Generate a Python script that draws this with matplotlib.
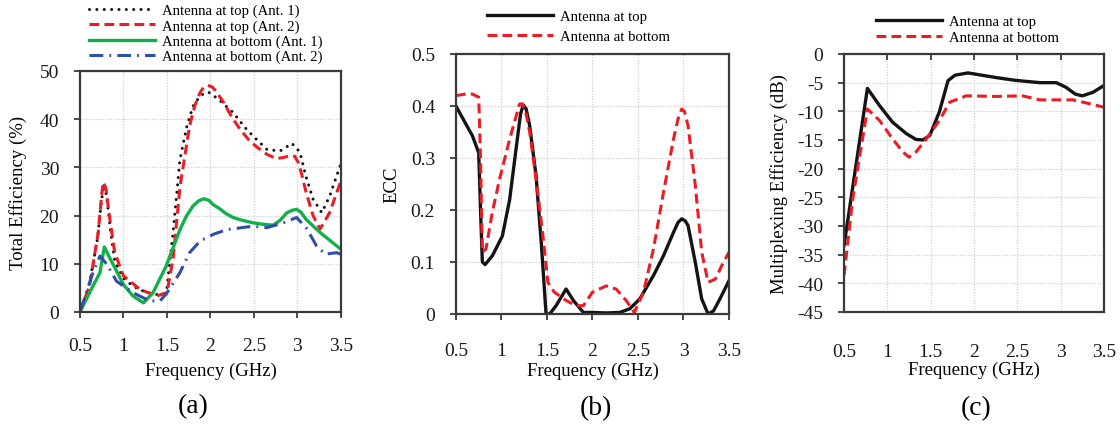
import matplotlib
matplotlib.use("Agg")
import matplotlib.pyplot as plt

plt.rcParams['font.family'] = ['Liberation Serif', 'DejaVu Serif']
plt.rcParams['axes.unicode_minus'] = False

# ---------------- data ----------------
freq_ticks = [0.5, 1, 1.5, 2, 2.5, 3, 3.5]
freq_tick_labels = ["0.5", "1", "1.5", "2", "2.5", "3", "3.5"]

# (a) Total efficiency (%)
fa_top1 = [0.5, 0.6, 0.7, 0.75, 0.78, 0.81, 0.85, 0.9, 1.0, 1.1, 1.2, 1.35, 1.45, 1.5, 1.57, 1.65,
           1.73, 1.8, 1.88, 1.95, 1.99, 2.1, 2.26, 2.4, 2.49, 2.65, 2.8, 2.88, 2.93, 2.98, 3.03, 3.1,
           3.18, 3.28, 3.37, 3.49]
ea_top1 = [0, 5, 15, 23.5, 26.5, 23.5, 17, 10.5, 7, 5.5, 4.5, 3.7, 3.5, 5, 16.5, 31.7,
           38.6, 42.7, 44.8, 45.6, 45.5, 44, 41.4, 38.2, 36.5, 33.7, 33.4, 34.3, 35, 34.3, 33, 28,
           23.4, 20.6, 24, 30.3]

fa_top2 = [0.5, 0.61, 0.71, 0.75, 0.77, 0.8, 0.83, 0.9, 1.0, 1.19, 1.38, 1.5, 1.57, 1.65, 1.76,
           1.82, 1.88, 1.92, 1.97, 2.02, 2.06, 2.15, 2.26, 2.35, 2.45, 2.55, 2.65, 2.76, 2.85, 2.91,
           2.97, 3.01, 3.05, 3.1, 3.18, 3.26, 3.37, 3.5]
ea_top2 = [0, 5.4, 16.5, 24.5, 27, 25.5, 21, 12.3, 7.5, 4.7, 3.3, 4, 11, 26, 38.6,
           42.8, 45.5, 46.6, 47, 46.7, 45.9, 43.5, 40, 37.7, 35.5, 34, 32.7, 31.8, 32.1, 32.4,
           32.3, 31, 28.5, 24.8, 20, 17.2, 20.6, 27.2]

fa_bot1 = [0.5, 0.61, 0.73, 0.78, 0.84, 1.0, 1.11, 1.23, 1.34, 1.49, 1.65, 1.72, 1.8, 1.86, 1.92,
           1.98, 2.03, 2.1, 2.18, 2.26, 2.35, 2.49, 2.6, 2.72, 2.8, 2.88, 2.94, 2.99, 3.04, 3.1,
           3.26, 3.5]
ea_bot1 = [0, 4, 8.2, 13.5, 11.3, 5.7, 3.3, 1.9, 4, 9.5, 17.1, 19.8, 22, 23.0, 23.5,
           23.2, 22.3, 21.5, 20.4, 19.6, 19.1, 18.5, 18.2, 18, 19.0, 20.6, 21.1, 21.3, 20.7, 19.2,
           16.5, 13]

fa_bot2 = [0.5, 0.65, 0.73, 0.81, 0.92, 1.11, 1.3, 1.42, 1.49, 1.65, 1.76, 1.88, 2.03, 2.19, 2.49,
           2.65, 2.84, 2.99, 3.1, 3.22, 3.32, 3.45, 3.5]
ea_bot2 = [0, 8.2, 11.6, 9.9, 6.4, 4, 2.3, 2.3, 3.7, 8.2, 12.3, 14.7, 16.1, 17.1, 17.8,
           17.5, 18.5, 19.6, 17.5, 13.7, 12, 12.3, 12]

# (b) ECC
fb_top = [0.5, 0.61, 0.68, 0.75, 0.77, 0.79, 0.82, 0.9, 1.01, 1.09, 1.16, 1.21, 1.24, 1.27, 1.31,
          1.38, 1.44, 1.49, 1.53, 1.6, 1.71, 1.79, 1.9, 2.0, 2.15, 2.3, 2.41, 2.52, 2.67, 2.78,
          2.89, 2.94, 2.98, 3.02, 3.05, 3.13, 3.2, 3.27, 3.33, 3.4, 3.5]
ecc_top = [0.4, 0.365, 0.343, 0.31, 0.2, 0.1, 0.095, 0.112, 0.15, 0.22, 0.317, 0.385, 0.402, 0.395, 0.362,
           0.266, 0.131, 0.0, 0.0, 0.016, 0.048, 0.026, 0.003, 0.003, 0.002, 0.003, 0.01, 0.029, 0.074, 0.112,
           0.157, 0.176, 0.183, 0.179, 0.17, 0.099, 0.029, 0.0, 0.006, 0.029, 0.064]

fb_bot = [0.5, 0.61, 0.68, 0.75, 0.77, 0.79, 0.83, 0.9, 0.98, 1.09, 1.16, 1.2, 1.23, 1.27, 1.31,
          1.38, 1.46, 1.51, 1.58, 1.71, 1.82, 1.9, 2.0, 2.15, 2.26, 2.37, 2.46, 2.56, 2.67, 2.78,
          2.89, 2.94, 2.98, 3.01, 3.05, 3.13, 3.2, 3.27, 3.35, 3.42, 3.5]
ecc_bot = [0.42, 0.423, 0.423, 0.417, 0.3, 0.119, 0.125, 0.196, 0.26, 0.336, 0.38, 0.404, 0.404, 0.385, 0.35,
           0.26, 0.144, 0.061, 0.042, 0.026, 0.016, 0.016, 0.042, 0.054, 0.048, 0.026, 0.003, 0.042, 0.125, 0.234,
           0.336, 0.375, 0.394, 0.39, 0.362, 0.247, 0.119, 0.061, 0.067, 0.093, 0.119]

# (c) Multiplexing efficiency (dB)
fc_top = [0.5, 0.77, 0.91, 1.06, 1.22, 1.33, 1.41, 1.49, 1.6, 1.7, 1.78, 1.93, 2.25, 2.48, 2.76,
          2.95, 3.06, 3.17, 3.25, 3.37, 3.5]
me_top = [-33.4, -6, -9, -11.9, -13.9, -14.9, -15.0, -14.2, -10.1, -4.65, -3.7, -3.3, -4.1, -4.6, -5.0,
          -5.0, -5.8, -7.0, -7.3, -6.7, -5.5]

fc_bot = [0.5, 0.6, 0.7, 0.77, 0.91, 1.06, 1.18, 1.25, 1.33, 1.45, 1.6, 1.72, 1.91, 2.25, 2.56,
          2.76, 3.14, 3.37, 3.5]
me_bot = [-38.6, -25.3, -16, -9.6, -11.6, -14.8, -17.1, -18.0, -17.1, -14.8, -11.6, -8.4, -7.3, -7.4, -7.3,
          -8.0, -8.0, -8.8, -9.3]

# ---------------- style ----------------
C_BLACK = '#141414'
C_RED = '#ec1c24'
C_GREEN = '#12b04a'
C_BLUE = '#2f4fa8'
SPINE = '#3a3a3a'
GRID = '#cfcfcf'
FS_TICK = 14
FS_LAB = 13.5
FS_LEG = 10.6

fig = plt.figure(figsize=(11.2, 4.27), dpi=100)
ax_a = fig.add_axes([0.0714, 0.2670, 0.2330, 0.5644])
ax_b = fig.add_axes([0.4071, 0.2623, 0.2438, 0.6089])
ax_c = fig.add_axes([0.7536, 0.2670, 0.2321, 0.6042])


def style_axes(ax):
    for s in ax.spines.values():
        s.set_color(SPINE)
        s.set_linewidth(1.6)
    ax.grid(True, color=GRID, linestyle=(0, (1, 1.2)), linewidth=0.9)
    ax.set_axisbelow(True)
    ax.set_xlim(0.5, 3.5)
    ax.set_xticks(freq_ticks)
    ax.set_xticklabels(freq_tick_labels)
    ax.tick_params(axis='both', labelsize=FS_TICK, colors=SPINE, labelcolor='#1a1a1a',
                   width=1.3, length=4)
    ax.tick_params(axis='y', pad=11)
    ax.set_xlabel('Frequency (GHz)', fontsize=FS_LAB)


# ---- (a)
ax = ax_a
style_axes(ax)
l1, = ax.plot(fa_top1, ea_top1, color=C_BLACK, lw=2.2, linestyle=(0, (0.01, 2.4)),
              dash_capstyle='round', solid_capstyle='round', label='Antenna at top (Ant. 1)')
l2, = ax.plot(fa_top2, ea_top2, color=C_RED, lw=2.2, linestyle=(0, (3.2, 1.7)),
              label='Antenna at top (Ant. 2)')
l3, = ax.plot(fa_bot1, ea_bot1, color=C_GREEN, lw=2.4, label='Antenna at bottom (Ant. 1)')
l4, = ax.plot(fa_bot2, ea_bot2, color=C_BLUE, lw=2.2, linestyle=(0, (4.5, 2, 0.6, 2)),
              label='Antenna at bottom (Ant. 2)')
ax.set_ylim(0, 50)
ax.set_yticks([0, 10, 20, 30, 40, 50])
ax.tick_params(axis='x', pad=14)
ax.set_ylabel('Total Efficiency (%)', fontsize=FS_LAB)
ax.xaxis.set_label_coords(0.5, -0.205)
ax.yaxis.set_label_coords(-0.203, 0.5)
fig.legend(handles=[l1, l2, l3, l4], loc='upper left', bbox_to_anchor=(89 / 1120, 1 - 5 / 427),
           frameon=False, fontsize=FS_LEG, handlelength=4.5, handletextpad=0.45,
           labelspacing=0.12, borderpad=0, borderaxespad=0)

# ---- (b)
ax = ax_b
style_axes(ax)
m1, = ax.plot(fb_top, ecc_top, color=C_BLACK, lw=2.4, label='Antenna at top')
m2, = ax.plot(fb_bot, ecc_bot, color=C_RED, lw=2.2, linestyle=(0, (3.2, 1.7)), label='Antenna at bottom')
ax.set_ylim(0, 0.5)
ax.set_yticks([0, 0.1, 0.2, 0.3, 0.4, 0.5])
ax.set_yticklabels(["0", "0.1", "0.2", "0.3", "0.4", "0.5"])
ax.tick_params(axis='x', pad=16)
ax.set_ylabel('ECC', fontsize=FS_LAB)
ax.xaxis.set_label_coords(0.5, -0.182)
ax.yaxis.set_label_coords(-0.205, 0.5)
fig.legend(handles=[m1, m2], loc='upper left', bbox_to_anchor=(487 / 1120, 1 - 11 / 427),
           frameon=False, fontsize=FS_LEG, handlelength=4.5, handletextpad=0.45,
           labelspacing=0.45, borderpad=0, borderaxespad=0)

# ---- (c)
ax = ax_c
style_axes(ax)
n1, = ax.plot(fc_top, me_top, color=C_BLACK, lw=2.4, label='Antenna at top')
n2, = ax.plot(fc_bot, me_bot, color=C_RED, lw=2.2, linestyle=(0, (3.2, 1.7)), label='Antenna at bottom')
ax.set_ylim(-45, 0)
ax.set_yticks(list(range(-45, 1, 5)))
ax.tick_params(axis='x', bottom=False, top=True, direction='in', labelbottom=True,
               labeltop=False, pad=22)
ax.set_ylabel('Multiplexing Efficiency (dB)', fontsize=FS_LAB)
ax.xaxis.set_label_coords(0.5, -0.19)
ax.yaxis.set_label_coords(-0.215, 0.5)
fig.legend(handles=[n1, n2], loc='upper left', bbox_to_anchor=(876 / 1120, 1 - 16 / 427),
           frameon=False, fontsize=FS_LEG, handlelength=4.5, handletextpad=0.45,
           labelspacing=0.15, borderpad=0, borderaxespad=0)

# panel labels
fig.text(193 / 1120, 1 - 407 / 427, '(a)', fontsize=20, ha='center', va='center')
fig.text(596 / 1120, 1 - 409 / 427, '(b)', fontsize=20, ha='center', va='center')
fig.text(976 / 1120, 1 - 409 / 427, '(c)', fontsize=20, ha='center', va='center')

fig.savefig('out.png', dpi=100)
